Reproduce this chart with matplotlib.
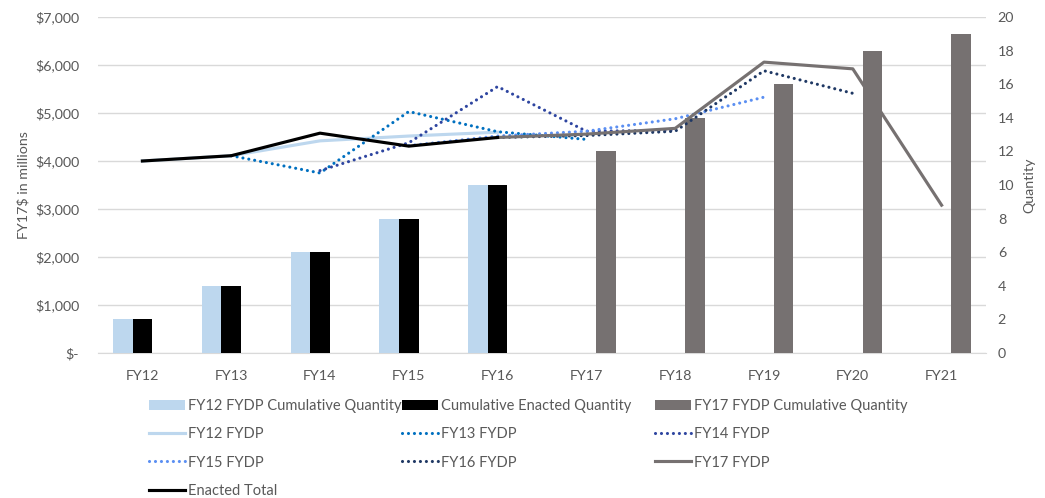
import numpy as np
import matplotlib
matplotlib.use("Agg")
import matplotlib.pyplot as plt
from matplotlib.ticker import FuncFormatter

plt.rcParams['font.family'] = ['Lato', 'DejaVu Sans']
plt.rcParams['font.size'] = 10.3

nan = np.nan

# Fiscal years on the x axis
categories = ["FY12", "FY13", "FY14", "FY15", "FY16",
              "FY17", "FY18", "FY19", "FY20", "FY21"]

# Quantities (right axis)
fy12_cum_qty = [2, 4, 6, 8, 10, nan, nan, nan, nan, nan]
enacted_cum_qty = [2, 4, 6, 8, 10, nan, nan, nan, nan, nan]
fy17_cum_qty = [nan, nan, nan, nan, nan, 12, 14, 16, 18, 19]

# Funding in FY17$ millions (left axis)
fy12_fydp = [4000, 4110, 4420, 4520, 4600, nan, nan, nan, nan, nan]
fy13_fydp = [nan, 4110, 3750, 5030, 4610, 4450, nan, nan, nan, nan]
fy14_fydp = [nan, nan, 3800, 4380, 5550, 4620, 4640, nan, nan, nan]
fy15_fydp = [nan, nan, nan, 4320, 4520, 4620, 4880, 5330, nan, nan]
fy16_fydp = [nan, nan, nan, nan, 4490, 4530, 4620, 5880, 5410, nan]
fy17_fydp = [nan, nan, nan, nan, 4490, 4560, 4680, 6060, 5920, 3080]
enacted_total = [4000, 4110, 4580, 4310, 4490, nan, nan, nan, nan, nan]

W, H = 1045, 498
fig = plt.figure(figsize=(W / 100, H / 100), dpi=100)

left, right, top, bottom = 98, 986, 17, 353
rect = [left / W, 1 - bottom / H, (right - left) / W, (bottom - top) / H]
ax = fig.add_axes(rect)          # $ axis + gridlines
ax2 = ax.twinx()                 # quantity bars
ax3 = ax.twinx()                 # lines on top
ax.set_zorder(1)
ax2.set_zorder(2)
ax3.set_zorder(3)
ax2.patch.set_visible(False)
ax3.patch.set_visible(False)

x = np.arange(len(categories))
txt = '#595959'

# bars
bw = 0.22
b1 = ax2.bar(x - bw, fy12_cum_qty, bw, color='#BDD7EE', label='FY12 FYDP Cumulative Quantity')
b2 = ax2.bar(x, enacted_cum_qty, bw, color='#000000', label='Cumulative Enacted Quantity')
b3 = ax2.bar(x + bw, fy17_cum_qty, bw, color='#767171', label='FY17 FYDP Cumulative Quantity')

# lines
lw = 2.25
dots = (0, (0.01, 1.9))
l12, = ax3.plot(x, fy12_fydp, color='#BDD7EE', lw=lw, label='FY12 FYDP')
l13, = ax3.plot(x, fy13_fydp, color='#0070C0', lw=lw, ls=dots, dash_capstyle='round', label='FY13 FYDP')
l14, = ax3.plot(x, fy14_fydp, color='#2E45A0', lw=lw, ls=dots, dash_capstyle='round', label='FY14 FYDP')
l15, = ax3.plot(x, fy15_fydp, color='#5B8FF2', lw=lw, ls=dots, dash_capstyle='round', label='FY15 FYDP')
l16, = ax3.plot(x, fy16_fydp, color='#1F3864', lw=lw, ls=dots, dash_capstyle='round', label='FY16 FYDP')
l17, = ax3.plot(x, fy17_fydp, color='#767171', lw=lw, label='FY17 FYDP')
len_, = ax3.plot(x, enacted_total, color='#000000', lw=lw, label='Enacted Total')

# axes setup
ax.set_xlim(-0.5, len(categories) - 0.5)
ax.set_ylim(0, 7000)
ax3.set_ylim(0, 7000)
ax2.set_ylim(0, 20)

ax.set_yticks(np.arange(0, 7001, 1000))
ax.yaxis.set_major_formatter(FuncFormatter(lambda v, p: '$-' if v == 0 else f'${v:,.0f}'))
ax.grid(axis='y', color='#D9D9D9', lw=1)
ax.set_xticks(x)
ax.set_xticklabels(categories)
ax.tick_params(axis='x', length=0, pad=12, colors=txt)
ax.tick_params(axis='y', length=0, pad=13.5, colors=txt)
ax.set_ylabel('FY17$ in millions', color=txt, labelpad=4)

ax2.set_yticks(np.arange(0, 21, 2))
ax2.tick_params(axis='y', length=0, pad=8.5, colors=txt)
ax2.set_ylabel('Quantity', color=txt, labelpad=6)

ax3.set_yticks([])
for a in (ax, ax2, ax3):
    for s in a.spines.values():
        s.set_visible(False)
ax.spines['bottom'].set_visible(True)
ax.spines['bottom'].set_color('#D9D9D9')

# legend: three fixed columns like the Excel layout
columns = [
    ([b1, l12, l15, len_], 149),
    ([b2, l13, l16], 402),
    ([b3, l14, l17], 655),
]
for handles, xpx in columns:
    fig.legend(handles=handles, labels=[h.get_label() for h in handles],
               loc='upper left', bbox_to_anchor=(xpx / W, 1 - 399 / H),
               frameon=False, borderpad=0, borderaxespad=0, fontsize=10.5,
               handlelength=2.5, handletextpad=0.2, labelspacing=0.98,
               labelcolor=txt)

fig.savefig('out.png', dpi=100)
